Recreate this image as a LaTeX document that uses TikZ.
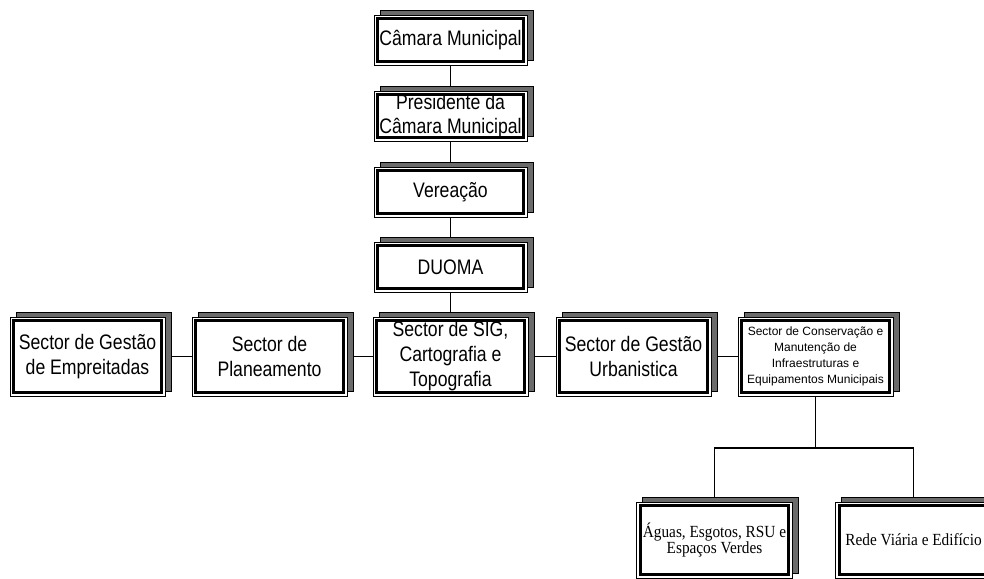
\documentclass[tikz,border=0pt]{standalone}
\usepackage{fontspec}
\setmainfont{Liberation Sans}[FakeStretch=0.84]
\newfontfamily\plainsans{Liberation Sans}
\newfontfamily\serifface{Liberation Serif}[FakeStretch=0.9]
\usepackage{tikz}
\usetikzlibrary{positioning,shadows,backgrounds}
\colorlet{shadowgray}{black!58}

\tikzset{
	unit/.style = {draw, line width=0.8pt, fill=white, align=center, outer sep=0pt, inner sep=0pt,
		minimum width=153pt, minimum height=50pt, font=\fontsize{21}{24}\selectfont,
		general shadow={fill=shadowgray, draw=black, line width=0.8pt, shadow xshift=6pt, shadow yshift=5pt},
		path picture={\draw[line width=3pt] ([shift={(3.8pt,3.8pt)}]path picture bounding box.south west) rectangle ([shift={(-3.8pt,-3.8pt)}]path picture bounding box.north east);}},
	sector/.style = {unit, minimum width=155pt, minimum height=79pt, font=\fontsize{21}{25}\selectfont},
	leaf/.style = {unit, minimum width=156pt, minimum height=76pt, font=\serifface\fontsize{17}{15}\selectfont},
	link/.style = {line width=1.5pt}
}

\begin{document}
\begin{tikzpicture}
		\useasboundingbox (0,0) rectangle (984pt,-578pt);
		\clip (0,0) rectangle (984pt,-578pt);
		\node[unit] (camara) at (450.5pt,-40pt) {Câmara Municipal};
		\node[unit] (presidente) [below=26pt of camara] {Presidente da\\Câmara Municipal};
		\node[unit] (vereacao) [below=26pt of presidente] {Vereação};
		\node[unit] (duoma) [below=25pt of vereacao] {DUOMA};
		
		\node[sector] (sig) [below=25pt of duoma] {Sector de SIG,\\Cartografia e\\Topografia};
		\node[sector] (planeamento) [left=26pt of sig] {Sector de\\Planeamento};
		\node[sector] (empreitadas) [left=27pt of planeamento] {Sector de Gestão\\de Empreitadas};
		\node[sector] (urbanistica) [right=28pt of sig] {Sector de Gestão\\Urbanistica};
		\node[sector] (conservacao) [right=27pt of urbanistica, font=\plainsans\fontsize{12}{16}\selectfont] {Sector de Conservação e\\Manutenção de\\Infraestruturas e\\Equipamentos Municipais};
		
		\node[leaf] (aguas) [below=106pt of conservacao, xshift=-101pt] {Águas, Esgotos, RSU e\\Espaços Verdes};
		\node[leaf] (rede) [below=106pt of conservacao, xshift=98pt] {Rede Viária e Edifício};
		\coordinate (fork) at ([yshift=-52pt]conservacao.south);
		
		\begin{scope}[on background layer]
			\draw[link] (camara.center) -- (presidente.center) -- (vereacao.center) -- (duoma.center) -- (sig.center);
			\draw[link] (empreitadas.center) -- (planeamento.center) -- (sig.center) -- (urbanistica.center) -- (conservacao.center);
			\draw[link] (conservacao.center) -- (fork);
			\draw[link] (aguas.center) |- (fork) -| (rede.center);
		\end{scope}
	\end{tikzpicture}
\end{document}
